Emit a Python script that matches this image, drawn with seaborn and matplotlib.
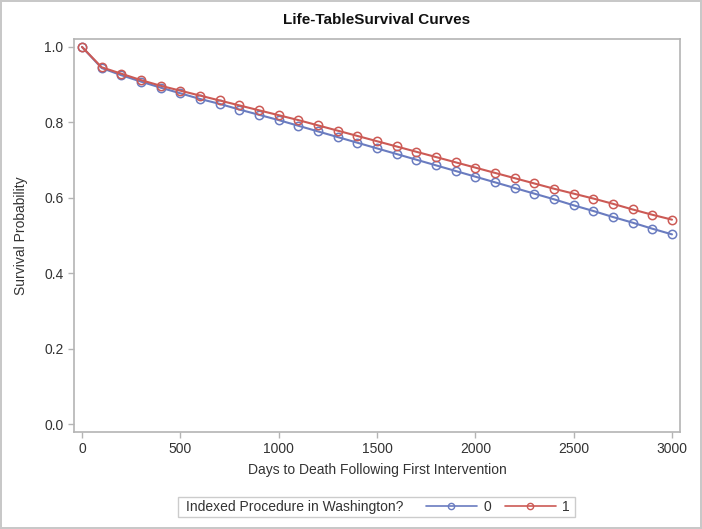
import numpy as np
import pandas as pd
import seaborn as sns
import matplotlib.pyplot as plt
from matplotlib.lines import Line2D
from matplotlib.patches import Rectangle

days = [0, 100, 200, 300, 400, 500, 600, 700, 800, 900, 1000,
        1100, 1200, 1300, 1400, 1500, 1600, 1700, 1800, 1900, 2000,
        2100, 2200, 2300, 2400, 2500, 2600, 2700, 2800, 2900, 3000]
surv_0 = [1.000, 0.944, 0.925, 0.908, 0.892, 0.877, 0.862, 0.849, 0.834, 0.820, 0.806,
          0.791, 0.776, 0.761, 0.746, 0.731, 0.716, 0.701, 0.686, 0.671, 0.656,
          0.641, 0.626, 0.611, 0.596, 0.580, 0.565, 0.549, 0.534, 0.518, 0.503]
surv_1 = [1.000, 0.946, 0.929, 0.912, 0.897, 0.884, 0.871, 0.858, 0.845, 0.832, 0.819,
          0.806, 0.792, 0.778, 0.764, 0.750, 0.736, 0.722, 0.708, 0.694, 0.680,
          0.666, 0.652, 0.638, 0.624, 0.611, 0.598, 0.584, 0.569, 0.555, 0.542]
groups = ["0", "1"]
x_ticks = [0, 500, 1000, 1500, 2000, 2500, 3000]
y_ticks = [0.0, 0.2, 0.4, 0.6, 0.8, 1.0]

df = pd.DataFrame({
    "days": days * 2,
    "surv": surv_0 + surv_1,
    "group": [groups[0]] * len(days) + [groups[1]] * len(days),
})

sns.set_style("ticks")
plt.rcParams["font.family"] = ["Liberation Sans", "DejaVu Sans"]

colors = {"0": "#6a7cc0", "1": "#cc5a55"}
axis_grey = "#b4b4b4"
text_grey = "#333333"

fig = plt.figure(figsize=(7.02, 5.29), dpi=100)
ax = fig.add_axes([74 / 702, 1 - 432 / 529, (680 - 74) / 702, (432 - 39) / 529])

sns.lineplot(data=df, x="days", y="surv", hue="group", palette=colors,
             marker="o", markersize=6, markerfacecolor="none",
             markeredgewidth=1.1, linewidth=1.5, ax=ax, legend=False)
# seaborn paints marker edges white; give them the line colour
for ln in ax.lines:
    ln.set_markeredgecolor(ln.get_color())

ax.set_xlim(-40.7, 3040.7)
ax.set_ylim(-0.021, 1.021)
ax.set_xticks(x_ticks)
ax.set_yticks(y_ticks)
ax.set_yticklabels([f"{v:.1f}" for v in y_ticks])
for s in ax.spines.values():
    s.set_visible(True)
    s.set_color(axis_grey)
    s.set_linewidth(1.2)
ax.tick_params(colors=axis_grey, labelcolor=text_grey, labelsize=10, length=4, width=1)

ax.set_xlabel("Days to Death Following First Intervention", fontsize=10, color=text_grey, labelpad=5)
ax.set_ylabel("Survival Probability", fontsize=10, color=text_grey, labelpad=12)
ax.set_title("Life-TableSurvival Curves", fontsize=11, fontweight="bold", color="#111111", pad=11)

# legend: frame + inline title + entries
leg_y = 1 - 507 / 529
fig.patches.append(Rectangle((178 / 702, 1 - 517 / 529), (575 - 178) / 702, 20 / 529,
                             transform=fig.transFigure, fill=False,
                             edgecolor="#cccccc", linewidth=1))
fig.text(186 / 702, leg_y, "Indexed Procedure in Washington?", fontsize=10,
         color=text_grey, ha="left", va="center")
handles = [Line2D([], [], color=colors[g], marker="o", markerfacecolor="none",
                  markersize=4.5, markeredgewidth=1, lw=1.2) for g in groups]
leg = fig.legend(handles, groups, ncol=2, loc="center left", bbox_to_anchor=(426 / 702, leg_y),
                 frameon=False, fontsize=10, handlelength=3.67, handletextpad=0.45,
                 columnspacing=1.0, borderpad=0, borderaxespad=0)
for t in leg.get_texts():
    t.set_color(text_grey)

fig.patch.set_edgecolor("#c8c8c8")
fig.patch.set_linewidth(1.5)

fig.savefig("out.png", dpi=100)
